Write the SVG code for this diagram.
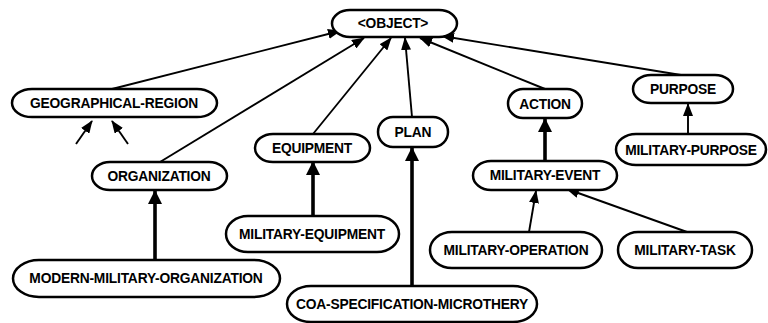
<svg xmlns="http://www.w3.org/2000/svg" width="768" height="323" viewBox="0 0 768 323">
<defs>
<marker id="ah" markerUnits="userSpaceOnUse" markerWidth="13" markerHeight="10" refX="12" refY="5" orient="auto">
<path d="M0,0 L13,5 L0,10 Z" fill="#000"/>
</marker>
<marker id="ahb" markerUnits="userSpaceOnUse" markerWidth="14" markerHeight="14" refX="13" refY="7" orient="auto">
<path d="M0,0 L14,7 L0,14 Z" fill="#000"/>
</marker>
</defs>
<style>
.n rect{fill:#fff;stroke:#000;stroke-width:2.5}
.n text{font-family:"Liberation Sans",Arial,sans-serif;font-weight:bold;font-size:13.8px;letter-spacing:-0.2px;text-anchor:middle;dominant-baseline:central;fill:#000}
.e line{stroke:#000;fill:none}
.t{stroke-width:1.9;marker-end:url(#ah)}
.b{stroke-width:3.6;marker-end:url(#ahb)}
</style>
<rect width="768" height="323" fill="#fff"/>
<g class="e" id="connectors">
<line class="t" x1="112" y1="89" x2="340" y2="31"/>
<line class="t" x1="160" y1="162" x2="364" y2="38"/>
<line class="t" x1="313" y1="134" x2="391" y2="38"/>
<line class="t" x1="412" y1="117" x2="405" y2="38"/>
<line class="t" x1="545" y1="89" x2="420" y2="38"/>
<line class="t" x1="681" y1="75" x2="442" y2="36"/>
<line class="t" x1="688" y1="134" x2="688" y2="104"/>
<line class="b" x1="545" y1="161" x2="545" y2="119"/>
<line class="t" x1="529" y1="232" x2="536" y2="191"/>
<line class="t" x1="687" y1="232" x2="567" y2="189"/>
<line class="b" x1="313" y1="216" x2="313" y2="162"/>
<line class="b" x1="155" y1="260" x2="155" y2="191"/>
<line class="b" x1="412" y1="286" x2="412" y2="148"/>
<line class="t" x1="76" y1="144" x2="92" y2="121"/>
<line class="t" x1="128" y1="144" x2="112" y2="121"/>
</g>
<g class="n" id="object"><rect x="332" y="10" width="125" height="27" rx="18" ry="13.5"/><text x="393" y="23.5">&lt;OBJECT&gt;</text></g>
<g class="n" id="geographical-region"><rect x="12" y="89" width="205" height="28" rx="20" ry="14"/><text x="114" y="103">GEOGRAPHICAL-REGION</text></g>
<g class="n" id="equipment"><rect x="255" y="134" width="115" height="28" rx="18" ry="14"/><text x="312" y="148">EQUIPMENT</text></g>
<g class="n" id="plan"><rect x="378" y="117" width="70" height="30" rx="15" ry="15"/><text x="413" y="132">PLAN</text></g>
<g class="n" id="action"><rect x="508" y="89" width="74" height="29" rx="15" ry="14.5"/><text x="545" y="104">ACTION</text></g>
<g class="n" id="purpose"><rect x="633" y="75" width="100" height="28" rx="18" ry="14"/><text x="683" y="89">PURPOSE</text></g>
<g class="n" id="military-purpose"><rect x="616" y="134" width="150" height="31" rx="20" ry="15.5"/><text x="691" y="150">MILITARY-PURPOSE</text></g>
<g class="n" id="organization"><rect x="92" y="162" width="135" height="28" rx="18" ry="14"/><text x="159" y="176">ORGANIZATION</text></g>
<g class="n" id="military-equipment"><rect x="226" y="216" width="173" height="36" rx="22" ry="18"/><text x="312" y="234">MILITARY-EQUIPMENT</text></g>
<g class="n" id="modern-military-organization"><rect x="13" y="260" width="267" height="37" rx="26" ry="18.5"/><text x="146" y="278">MODERN-MILITARY-ORGANIZATION</text></g>
<g class="n" id="coa-specification-microthery"><rect x="287" y="286" width="250" height="36" rx="24" ry="18"/><text x="412" y="304">COA-SPECIFICATION-MICROTHERY</text></g>
<g class="n" id="military-event"><rect x="473" y="161" width="144" height="29" rx="18" ry="14.5"/><text x="545" y="175.5">MILITARY-EVENT</text></g>
<g class="n" id="military-operation"><rect x="430" y="232" width="172" height="36" rx="22" ry="18"/><text x="516" y="250">MILITARY-OPERATION</text></g>
<g class="n" id="military-task"><rect x="618" y="232" width="134" height="36" rx="20" ry="18"/><text x="685" y="250">MILITARY-TASK</text></g>
</svg>
